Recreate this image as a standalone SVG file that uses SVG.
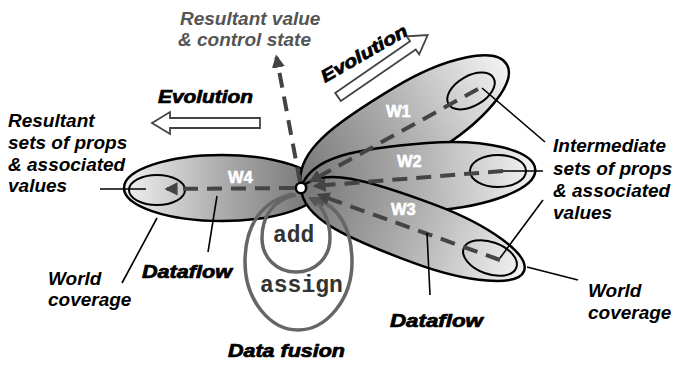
<svg xmlns="http://www.w3.org/2000/svg" width="674" height="366" viewBox="0 0 674 366">
  <style>
    .lbl { font-family: "Liberation Sans", Arial, sans-serif; font-weight: bold; font-style: italic; font-size: 19px; fill: #000; }
    .gray { fill: #555; }
    .heavy { font-size: 17.5px; stroke: #000; stroke-width: 0.7; }
    .wlbl { font-family: "Liberation Sans", Arial, sans-serif; font-weight: bold; font-size: 16.5px; fill: #fff; stroke: #fff; stroke-width: 0.6; }
    .code { font-family: "Liberation Mono", "Courier New", monospace; font-weight: bold; font-size: 23px; fill: #333; }
    .lobe { stroke: #000; stroke-width: 2.5; stroke-linejoin: round; }
    .inner { fill: none; stroke: #000; stroke-width: 2; }
    .loop { fill: none; stroke: #666; stroke-width: 3.5; }
    .flow { fill: none; stroke: #444; stroke-width: 4; stroke-dasharray: 15 9; }
    .leader { stroke: #000; stroke-width: 1.6; fill: none; }
    .evo { fill: #fff; stroke: #444; stroke-width: 1.8; stroke-linejoin: miter; }
  </style>
  <defs>
    <!-- lobes darken toward the hub (local +x points away from the hub) -->
    <linearGradient id="lobeOut" x1="0" y1="0" x2="1" y2="0">
      <stop offset="0" stop-color="#767676"/>
      <stop offset="0.5" stop-color="#b0b0b0"/>
      <stop offset="1" stop-color="#f3f3f3"/>
    </linearGradient>
    <linearGradient id="lobeIn" x1="1" y1="0" x2="0" y2="0">
      <stop offset="0" stop-color="#727272"/>
      <stop offset="0.5" stop-color="#acacac"/>
      <stop offset="1" stop-color="#f0f0f0"/>
    </linearGradient>
    <marker id="head" viewBox="0 0 10 10" refX="8" refY="5" markerWidth="3.3" markerHeight="3.3" orient="auto">
      <path d="M0,0 L10,5 L0,10 z" fill="#444"/>
    </marker>
    <marker id="loopHead" viewBox="0 0 10 10" refX="8" refY="5" markerWidth="3.2" markerHeight="3.2" orient="auto">
      <path d="M0,0 L10,5 L0,10 z" fill="#555"/>
    </marker>
  </defs>

  <!-- world lobes -->
  <g id="w4">
    <ellipse class="lobe" cx="222" cy="188" rx="98" ry="33" fill="url(#lobeIn)"/>
    <ellipse class="inner" cx="157" cy="190" rx="28" ry="15"/>
    <text class="wlbl" x="228" y="183">W4</text>
  </g>
  <g id="w1">
    <path class="lobe" fill="url(#lobeOut)" transform="translate(301 188) rotate(-31)"
          d="M0,0 C12,-34.2 60,-38 132,-38 C192,-38 240,-21 240,0 C240,21 192,38 132,38 C60,38 12,34.2 0,0 Z"/>
    <ellipse class="inner" cx="471" cy="91" rx="26" ry="15" transform="rotate(-30 471 91)"/>
    <text class="wlbl" x="386" y="117">W1</text>
  </g>
  <g id="w2">
    <path class="lobe" fill="url(#lobeOut)" transform="translate(301 188) rotate(-4.5)"
          d="M0,0 C11.8,-30.6 58.8,-35 129.3,-35 C187.6,-35 235,-19.3 235,0 C235,18.8 187.6,33 129.3,33 C58.8,33 11.8,29.7 0,0 Z"/>
    <ellipse class="inner" cx="498" cy="171" rx="28" ry="16"/>
    <text class="wlbl" x="397" y="167">W2</text>
  </g>
  <g id="w3">
    <path class="lobe" fill="url(#lobeOut)" transform="translate(301 188) rotate(20.4)"
          d="M0,0 C11.9,-27.9 59.5,-31 130.9,-31 C190,-31 238,-17.1 238,0 C238,17.1 190,31 130.9,31 C59.5,31 11.9,27.9 0,0 Z"/>
    <ellipse class="inner" cx="490" cy="258" rx="28" ry="16" transform="rotate(20 490 258)"/>
    <text class="wlbl" x="391" y="215">W3</text>
  </g>

  <!-- data fusion loops -->
  <g id="fusion-add">
    <path class="loop" d="M296,195 C270,200 262,220 262,238 C262,258 277,272 296,272 C315,272 330,258 330,238 C330,220 322,204 310,198" marker-end="url(#loopHead)"/>
    <text class="code" x="273" y="242">add</text>
  </g>
  <g id="fusion-assign">
    <path class="loop" d="M294,194 C262,200 245,225 245,262 C245,300 270,330 298,330 C326,330 352,300 352,262 C352,228 338,206 316,199" marker-end="url(#loopHead)"/>
    <text class="code" x="260" y="292">assign</text>
  </g>

  <!-- connectors -->
  <g id="connectors">
    <path class="flow" d="M300,182 L276.5,57" marker-end="url(#head)"/>
    <path class="flow" d="M294,188 L167,189" marker-end="url(#head)"/>
    <path class="flow" d="M478,89 L311,181" marker-end="url(#head)"/>
    <path class="flow" d="M503,171 L315,186" marker-end="url(#head)"/>
    <path class="flow" d="M500,260 L319,195" marker-end="url(#head)"/>
    <line class="leader" x1="100" y1="189" x2="146" y2="189"/>
    <line class="leader" x1="122" y1="283" x2="157" y2="218"/>
    <line class="leader" x1="208" y1="252" x2="217" y2="196"/>
    <line class="leader" x1="430" y1="295" x2="427" y2="233"/>
    <line class="leader" x1="527" y1="267" x2="578" y2="280"/>
    <line class="leader" x1="543" y1="200" x2="500" y2="258"/>
    <line class="leader" x1="482" y1="88" x2="545" y2="142"/>
    <line class="leader" x1="503" y1="171" x2="543" y2="171"/>
  </g>

  <g id="hub">
    <circle cx="301" cy="188" r="5.2" fill="#fff" stroke="#000" stroke-width="2.6"/>
  </g>

  <!-- evolution arrows -->
  <g id="evolution-left">
    <polygon class="evo" points="0,-5 90,-5 90,-11 108,0 90,11 90,5 0,5" transform="translate(260 123) rotate(180)"/>
    <text class="lbl heavy" x="158" y="103" textLength="95" lengthAdjust="spacingAndGlyphs">Evolution</text>
  </g>
  <g id="evolution-right">
    <polygon class="evo" points="0,-5 91,-5 91,-11 109,0 91,11 91,5 0,5" transform="translate(338 97) rotate(-34.6)"/>
    <text class="lbl heavy" transform="translate(325 83) rotate(-30)" textLength="97" lengthAdjust="spacingAndGlyphs">Evolution</text>
  </g>

  <!-- annotations -->
  <g id="labels">
    <text class="lbl gray" x="180" y="25">Resultant value</text>
    <text class="lbl gray" x="178" y="46">&amp; control state</text>

    <text class="lbl" x="8" y="127">Resultant</text>
    <text class="lbl" x="8" y="149">sets of props</text>
    <text class="lbl" x="8" y="171">&amp; associated</text>
    <text class="lbl" x="8" y="192">values</text>

    <text class="lbl" x="553" y="152">Intermediate</text>
    <text class="lbl" x="553" y="175">sets of props</text>
    <text class="lbl" x="553" y="197">&amp; associated</text>
    <text class="lbl" x="553" y="219">values</text>

    <text class="lbl" x="48" y="285">World</text>
    <text class="lbl" x="48" y="306">coverage</text>
    <text class="lbl" x="588" y="297">World</text>
    <text class="lbl" x="588" y="319">coverage</text>

    <text class="lbl heavy" x="142" y="278" textLength="90" lengthAdjust="spacingAndGlyphs">Dataflow</text>
    <text class="lbl heavy" x="390" y="327" textLength="93" lengthAdjust="spacingAndGlyphs">Dataflow</text>
    <text class="lbl heavy" x="228" y="357" textLength="117" lengthAdjust="spacingAndGlyphs">Data fusion</text>
  </g>
</svg>
